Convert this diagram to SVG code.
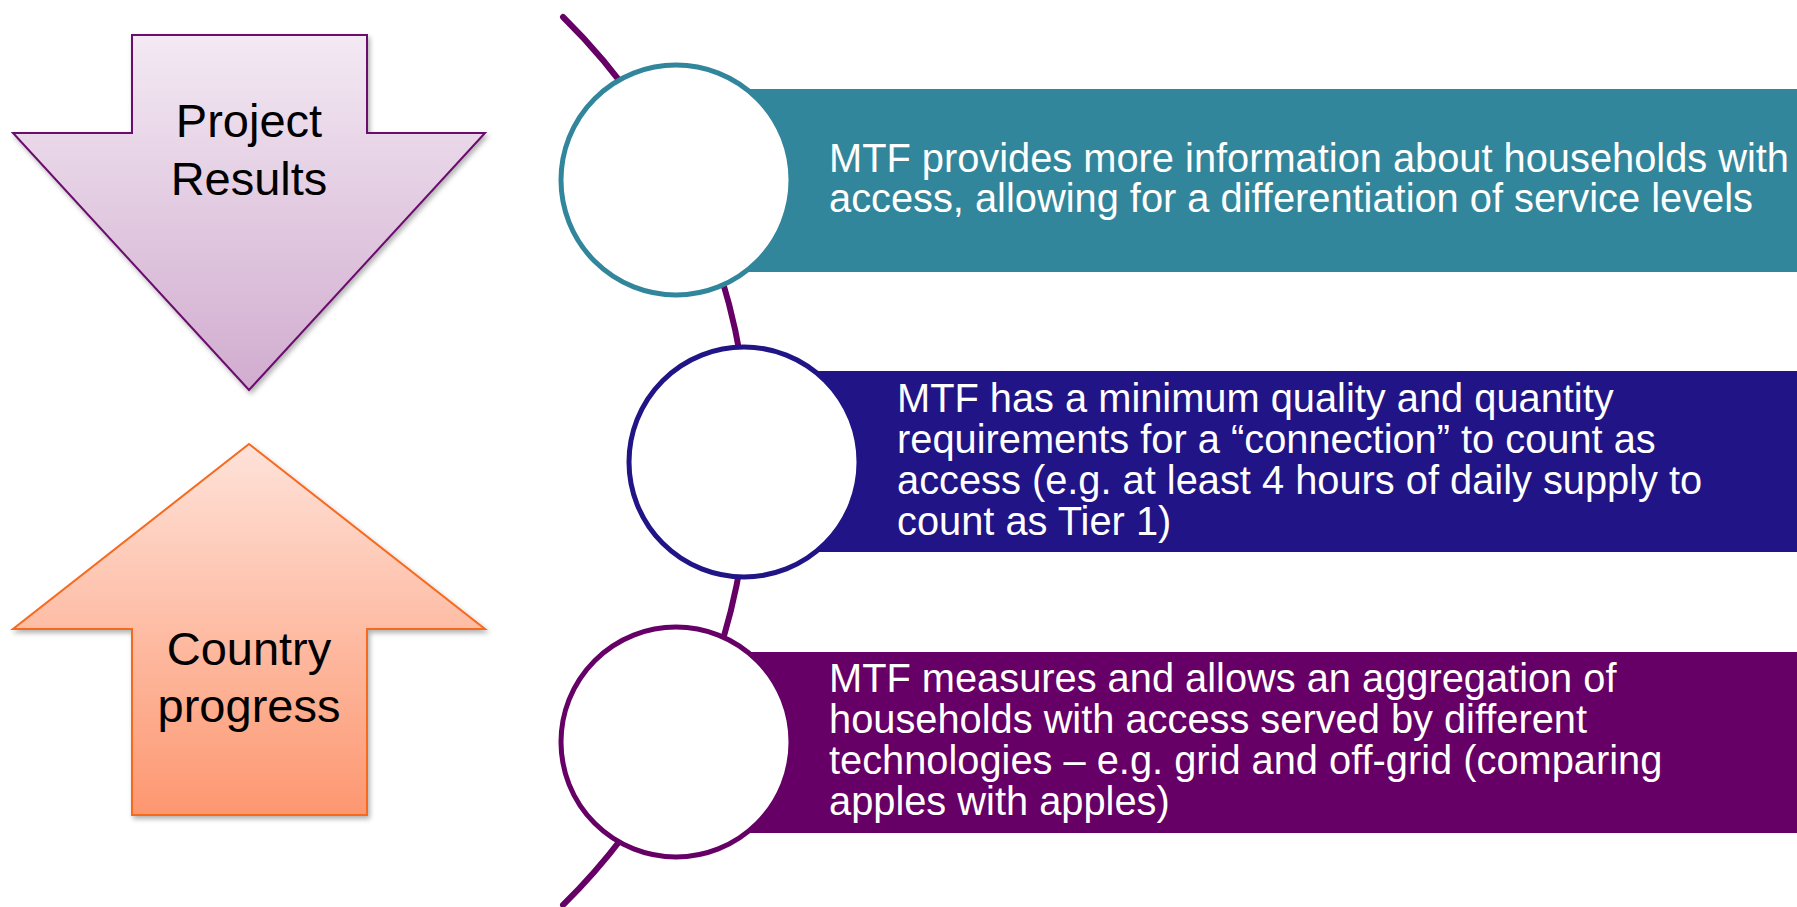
<svg xmlns="http://www.w3.org/2000/svg" width="1797" height="907" viewBox="0 0 1797 907">
<style>
.lbl{font-family:"Liberation Sans",Arial,sans-serif;font-size:47px;fill:#000;text-anchor:middle}
.txt{font-family:"Liberation Sans",Arial,sans-serif;font-size:39.8px;fill:#fff}
.ring{fill:#fff;stroke-width:5}
</style>
<defs>
<linearGradient id="gDown" x1="0" y1="0" x2="0" y2="1">
<stop offset="0" stop-color="#f3e9f3"/>
<stop offset="1" stop-color="#d1accf"/>
</linearGradient>
<linearGradient id="gUp" x1="0" y1="0" x2="0" y2="1">
<stop offset="0" stop-color="#fee2d9"/>
<stop offset="1" stop-color="#fd9770"/>
</linearGradient>
<filter id="sh" x="-10%" y="-10%" width="120%" height="120%">
<feDropShadow dx="2" dy="3" stdDeviation="2.5" flood-color="#000" flood-opacity="0.3"/>
</filter>
</defs>
<g id="arrow-project-results">
<polygon points="132,35 367,35 367,133 485,133 249,390 13,133 132,133" fill="url(#gDown)" stroke="#6a0a6d" stroke-width="2" filter="url(#sh)"/>
<text class="lbl" x="249" y="137">Project</text>
<text class="lbl" x="249" y="195">Results</text>
</g>
<g id="arrow-country-progress">
<polygon points="249,444 485,629 367,629 367,815 132,815 132,629 13,629" fill="url(#gUp)" stroke="#f7691e" stroke-width="2" filter="url(#sh)"/>
<text class="lbl" x="249" y="665">Country</text>
<text class="lbl" x="249" y="722">progress</text>
</g>
<g id="connectors">
<path d="M 563 17 A 623 623 0 0 1 563 905" fill="none" stroke="#660066" stroke-width="6" stroke-linecap="round"/>
</g>
<g id="item1">
<rect x="676" y="89" width="1121" height="183" fill="#32869b"/>
<circle class="ring" cx="676" cy="180" r="115" stroke="#32869b"/>
<text class="txt" x="829" y="172">MTF provides more information about households with</text>
<text class="txt" x="829" y="212">access, allowing for a differentiation of service levels</text>
</g>
<g id="item2">
<rect x="744" y="371" width="1053" height="181" fill="#211486"/>
<circle class="ring" cx="744" cy="462" r="115" stroke="#211486"/>
<text class="txt" x="897" y="412">MTF has a minimum quality and quantity</text>
<text class="txt" x="897" y="453">requirements for a “connection” to count as</text>
<text class="txt" x="897" y="494">access (e.g. at least 4 hours of daily supply to</text>
<text class="txt" x="897" y="535">count as Tier 1)</text>
</g>
<g id="item3">
<rect x="676" y="652" width="1121" height="181" fill="#660066"/>
<circle class="ring" cx="676" cy="742" r="115" stroke="#660066"/>
<text class="txt" x="829" y="692">MTF measures and allows an aggregation of</text>
<text class="txt" x="829" y="733">households with access served by different</text>
<text class="txt" x="829" y="774">technologies – e.g. grid and off-grid (comparing</text>
<text class="txt" x="829" y="815">apples with apples)</text>
</g>
</svg>
